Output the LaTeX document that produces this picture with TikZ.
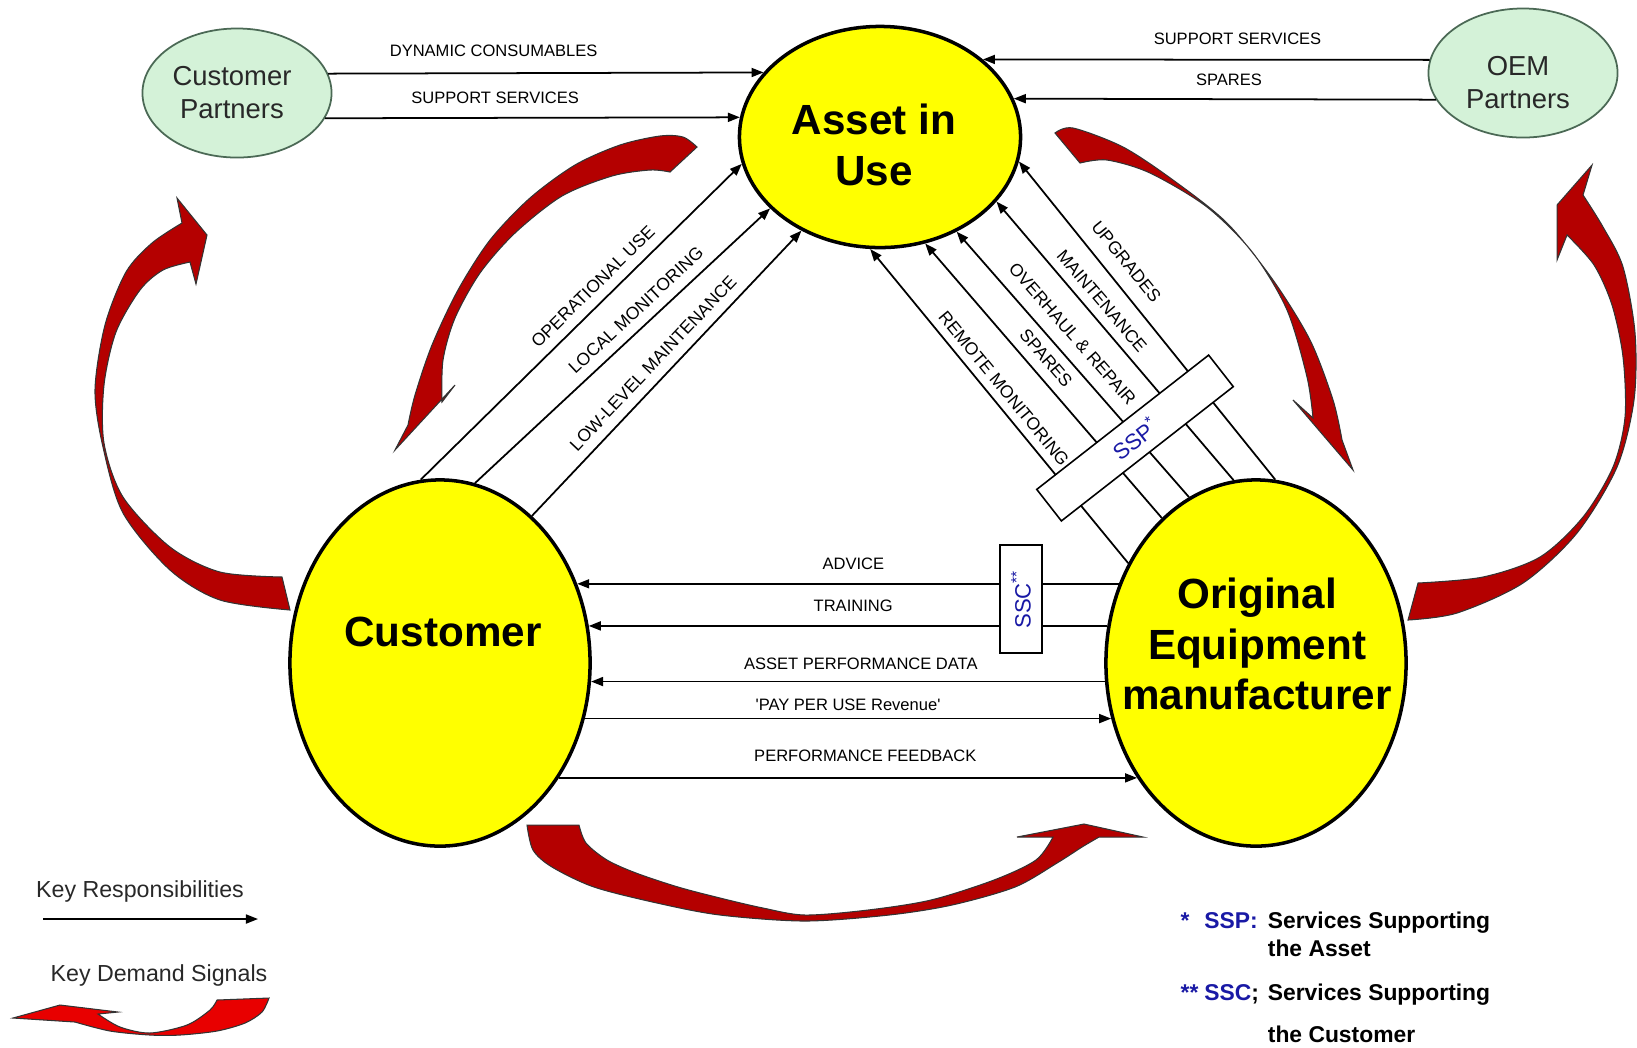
\documentclass[tikz,border=0pt]{standalone}
\usepackage{fontspec}
\setmainfont{Liberation Sans}
\usetikzlibrary{arrows.meta,shapes.geometric}

\definecolor{partyyellow}{RGB}{255,255,0}
\definecolor{partnergreen}{RGB}{212,242,216}
\definecolor{partneredge}{RGB}{75,105,85}
\definecolor{signalred}{RGB}{180,0,0}
\definecolor{keyred}{RGB}{232,0,0}
\definecolor{servblue}{RGB}{25,25,165}
\definecolor{inkgray}{RGB}{40,40,40}

\begin{document}
\begin{tikzpicture}[x=0.01cm, y=-0.01cm,
		party/.style={ellipse, draw, line width=1pt, fill=partyyellow, inner sep=0pt},
		partner/.style={ellipse, draw=partneredge, line width=0.5pt, fill=partnergreen, inner sep=0pt, minimum width=1.89cm, minimum height=1.29cm},
		bigtext/.style={font=\fontsize{12}{14.3}\selectfont\bfseries, align=center},
		partnertext/.style={font=\fontsize{7.8}{9.4}\selectfont, text=inkgray, align=center},
		resp/.style={line width=0.5pt, -{Triangle[length=1.2mm, width=0.9mm]}},
		lbl/.style={font=\fontsize{4.7}{5.6}\selectfont, above=#1},
		lbl/.default=0.2mm,
		diag/.style={font=\fontsize{5}{6}\selectfont, sloped, above=#1},
		diag/.default=-0.2mm,
		servbox/.style={draw, fill=white, line width=0.45pt, inner sep=0pt, text=servblue, font=\fontsize{6.3}{7.5}\selectfont},
		demand/.style={fill=signalred, draw=black!80, line width=0.3pt},
		keytext/.style={font=\fontsize{6.6}{8}\selectfont, text=inkgray}]
	\useasboundingbox (0,0) rectangle (1637,1047);
	% the three parties
	\node[party, minimum width=2.81cm, minimum height=2.21cm] (asset) at (880,137) {};
	\node[party, minimum width=3cm, minimum height=3.66cm] (cust) at (440,663) {};
	\node[party, minimum width=3cm, minimum height=3.66cm] (oem) at (1256,663) {};
	\node[bigtext] (assetname) at (874,145) {Asset in\\Use};
	\node[bigtext] (custname) at (443,632) {Customer};
	\node[bigtext] (oemname) at (1257,644) {Original\\Equipment\\manufacturer};
	% partners
	\node[partner] (cp) at (237,93) {};
	\node[partner] (oemp) at (1523,73) {};
	\node[partnertext] (cpname) at (232,93) {Customer\\Partners};
	\node[partnertext] (oempname) at (1518,83) {OEM\\Partners};

	% supplies from the partners
	\draw[resp] (cp.12) -- node[lbl=0.4mm, pos=0.38] {DYNAMIC CONSUMABLES} (asset.151);
	\draw[resp] (cp.-16) -- node[lbl, pos=0.41] {SUPPORT SERVICES} (asset.172);
	\draw[resp] (oemp.172) -- node[lbl, pos=0.43] {SUPPORT SERVICES} (asset.37);
	\draw[resp] (oemp.197) -- node[lbl=0.1mm, pos=0.49] {SPARES} (asset.16);

	% customer -> asset
	\draw[resp] (cust.96) -- node[diag, pos=0.573] {OPERATIONAL USE} (asset.191);
	\draw[resp] (cust.79) -- node[diag, pos=0.584] {LOCAL MONITORING} (asset.213);
	\draw[resp] (cust.58) -- node[diag, pos=0.495] {LOW-LEVEL MAINTENANCE} (asset.230);

	% oem -> asset
	\draw[resp] (oem.142) -- node[diag=-0.4mm, pos=0.526] {REMOTE MONITORING} (asset.265);
	\draw[resp] (oem.123) -- node[diag, pos=0.543] {SPARES} (asset.293);
	\draw[resp] (oem.112) -- node[diag=0.1mm, pos=0.566] {OVERHAUL \& REPAIR} (asset.309);
	\draw[resp] (oem.97) -- node[diag=-0.3mm, pos=0.606] {MAINTENANCE} (asset.331);
	\draw[resp] (oem.84) -- node[diag=0.2mm, pos=0.644] {UPGRADES} (asset.350);

	% between customer and oem
	\draw[resp] (oem.150) -- node[lbl, pos=0.49] {ADVICE} (cust.30);
	\draw[resp] (oem.166) -- node[lbl, pos=0.49] {TRAINING} (cust.14);
	\draw[resp] (oem.187) -- node[lbl=-0.1mm, pos=0.475] {ASSET PERFORMANCE DATA} (cust.-7);
	\draw[resp] (cust.-21) -- node[lbl=-0.5mm, pos=0.5] {\textquotesingle PAY PER USE Revenue\textquotesingle} (oem.201);
	\draw[resp] (cust.-44) -- node[lbl=0.4mm, pos=0.53] {PERFORMANCE FEEDBACK} (oem.224);

	% service bundles
	\node[servbox, minimum width=2.18cm, minimum height=0.4cm, rotate=38] (ssp) at (1135,438) {SSP\textsuperscript{*}};
	\node[servbox, minimum width=1.08cm, minimum height=0.42cm, rotate=90] (ssc) at (1021,599) {SSC\textsuperscript{**}};

	% demand signals
	\filldraw[demand] plot[smooth] coordinates {(182,223) (152,243) (126,272) (105,325) (95,390) (103,447) (123,513) (170,570) (220,600) (290,610)}
		-- plot[smooth] coordinates {(282,577) (220,572) (170,547) (123,497) (104,443) (104,385) (116,332) (140,290) (163,270) (190,262)}
		-- (196,284) -- (207,235) -- (177,198) -- cycle;
	\filldraw[demand] plot[smooth] coordinates {(697,147) (683,137) (660,136) (620,145) (575,165) (530,198) (490,240) (458,290) (432,345) (415,395) (408,425)}
		-- (395,450) -- (455,385) -- (442,402)
		-- plot[smooth] coordinates {(442,402) (443,360) (455,318) (480,273) (515,233) (562,196) (612,176) (650,170) (670,172)} -- cycle;
	\filldraw[demand] plot[smooth] coordinates {(1055,133) (1073,128) (1123,147) (1173,180) (1227,223) (1273,280) (1310,340) (1333,400) (1342,440)}
		-- (1353,470) -- (1293,400) -- (1313,418)
		-- plot[smooth] coordinates {(1313,418) (1307,377) (1287,310) (1253,253) (1207,207) (1150,173) (1107,160) (1080,163)} -- cycle;
	\filldraw[demand] plot[smooth] coordinates {(1583,195) (1603,227) (1623,267) (1635,333) (1634,400) (1617,467) (1577,533) (1523,583) (1457,613) (1408,620)}
		-- plot[smooth] coordinates {(1418,583) (1483,577) (1540,557) (1583,517) (1613,467) (1625,417) (1623,357) (1612,305) (1594,265) (1567,235)}
		-- (1557,260) -- (1557,205) -- (1592,165) -- cycle;
	\filldraw[demand] plot[smooth] coordinates {(527,825) (533,850) (552,867) (594,887) (657,903) (720,915) (805,921) (889,915) (952,905) (1015,887) (1057,863) (1082,847) (1099,837)}
		-- (1143,837) -- (1084,824) -- (1017,837) -- (1053,837)
		-- plot[smooth] coordinates {(1053,837) (1036,860) (994,880) (931,900) (868,910) (805,915) (763,908) (720,898) (678,887) (636,873) (607,860) (586,843) (579,825)} -- cycle;

	% legend
	\node[keytext] (keyresp) at (140,891) {Key Responsibilities};
	\coordinate (respfrom) at (43,919);
	\coordinate (respto) at (258,919);
	\draw[resp] (respfrom) -- (respto);
	\node[keytext] (keydemand) at (159,975) {Key Demand Signals};
	\filldraw[demand, fill=keyred] plot[smooth] coordinates {(269,998) (262,1012) (245,1023) (217,1031) (180,1035) (150,1035) (110,1031) (75,1022)}
		-- (13,1018) -- (60,1005) -- (118,1012) -- (98,1014)
		-- plot[smooth] coordinates {(98,1014) (120,1027) (150,1033) (187,1025) (210,1010) (217,1000)} -- cycle;

	% footnotes
	\node[font=\fontsize{6.5}{8.2}\selectfont\bfseries, anchor=base west, inner sep=0pt] (keyssp) at (1180,928) {%
		\begin{tabular}[t]{@{}l@{\hspace{1.7pt}}l@{\hspace{2.5pt}}l@{}}
			\textcolor{servblue}{*} & \textcolor{servblue}{SSP:} & Services Supporting\\
			& & the Asset\\[4.2pt]
			\textcolor{servblue}{**} & \textcolor{servblue}{SSC}; & Services Supporting\\[3.7pt]
			& & the Customer
		\end{tabular}};
\end{tikzpicture}
\end{document}
